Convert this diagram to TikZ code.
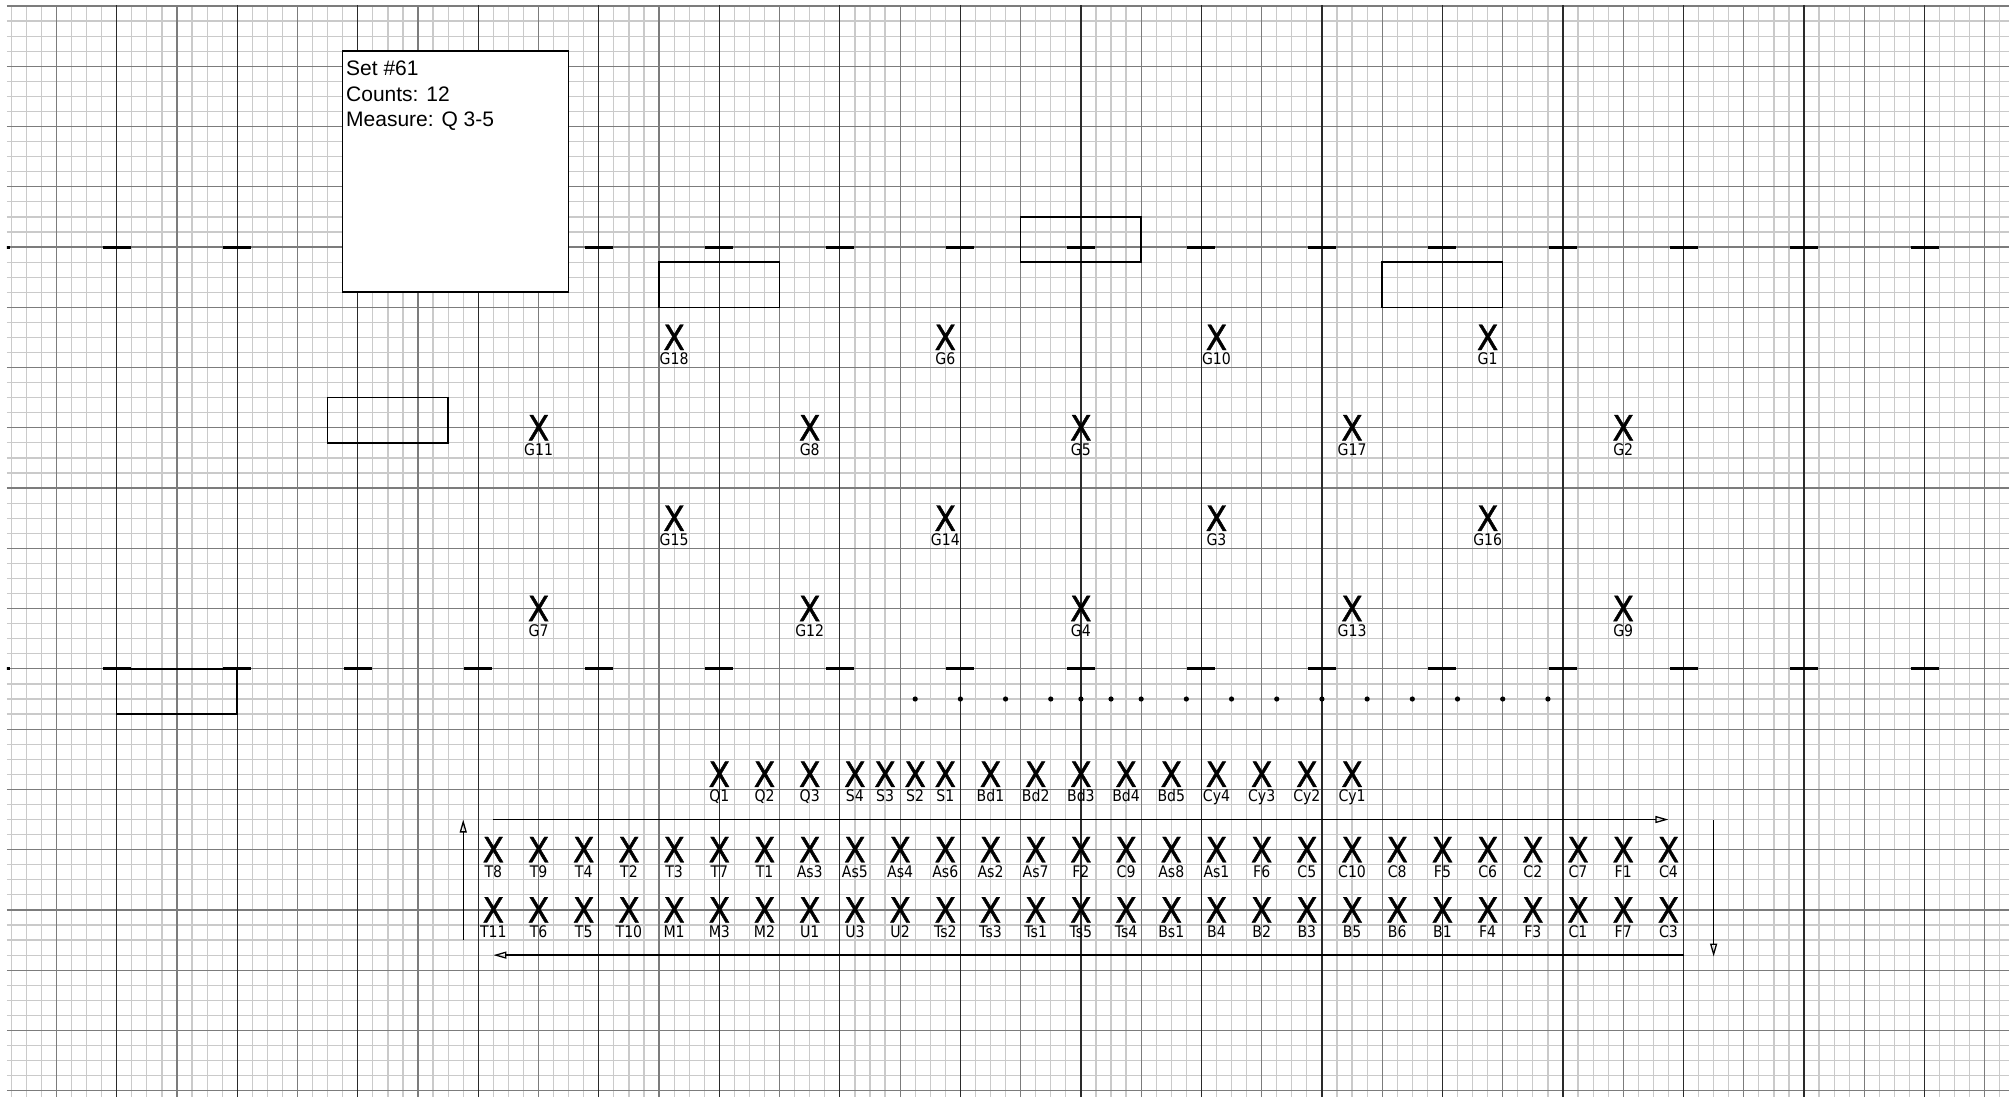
\documentclass[tikz,border=0pt]{standalone}
\usepackage{fontspec}
\setmainfont{Liberation Sans}
\newfontfamily\lblfont[FakeStretch=0.88]{DejaVu Sans}
\newfontfamily\xfont[FakeStretch=0.9,FakeBold=1.2]{DejaVu Sans}
\usetikzlibrary{arrows.meta}
\definecolor{gridlight}{HTML}{CACACA}
\definecolor{gridmid}{HTML}{7C7C7C}
\definecolor{gridyard}{HTML}{2A2A2A}
\tikzset{
  lightline/.style={draw=gridlight, line width=1.2pt},
  midline/.style={draw=gridmid, line width=1.2pt},
  yardline/.style={draw=gridyard, line width=1.2pt},
  hashmark/.style={draw=black, line width=3pt},
  formbox/.style={draw=black, line width=1.5pt},
  infobox/.style={draw=black, fill=white, line width=1.5pt},
  infotext/.style={anchor=base west, inner sep=0pt, font=\fontsize{21}{25}\selectfont},
  markx/.style={anchor=base, inner sep=0pt, yshift=-12.6pt, font=\xfont\fontsize{34.7}{40}\selectfont},
  lbltext/.style={anchor=base, inner sep=0pt, yshift=-27.4pt, font=\lblfont\fontsize{16}{19}\selectfont},
  pathline/.style={draw=black, line width=1.3pt, -{Triangle[open, length=13pt, width=7pt]}},
  dotmark/.style={fill=black},
}
\newcommand\mk[3]{%
  \node[markx] (x#3) at ({#1},{#2}) {X};
  \node[lbltext] (l#3) at ({#1},{#2}) {#3};
}
\begin{document}
\begin{tikzpicture}[x=15.065pt, y=-15.065pt]
\useasboundingbox (-1080.9pt,6pt) rectangle (928.1pt,-1090pt);
% grid
\begin{scope}
  \clip (-71.3,-0.06) rectangle (61.7,72.5);
  \foreach \k in {0,...,72} \draw[lightline] (-71.3,\k) -- (61.7,\k);
  \foreach \s in {-71,...,61} \draw[lightline] (\s,-0.1) -- (\s,72.5);
  \foreach \k in {0,4,...,72} \draw[midline] (-71.3,\k) -- (61.7,\k);
  \foreach \s in {-68,-64,...,60} \draw[midline] (\s,-0.1) -- (\s,72.5);
  \foreach \s in {-64,-56,...,56} \draw[yardline] (\s,-0.1) -- (\s,72.5);
  \foreach \s in {-72,-64,...,56} {
    \draw[hashmark] ({\s-0.93},16) -- ({\s+0.93},16);
    \draw[hashmark] ({\s-0.93},44) -- ({\s+0.93},44);
  }
\end{scope}
% form rectangles
\draw[formbox] (-28,17) rectangle (-20,20);
\draw[formbox] (-4,14) rectangle (4,17);
\draw[formbox] (20,17) rectangle (28,20);
\draw[formbox] (-50,26) rectangle (-42,29);
\draw[formbox] (-64,44) rectangle (-56,47);
% info box
\draw[infobox] (-49,3) rectangle (-34,19);
\node[infotext] (setno) at (-48.78,4.627) {Set \#61};
\node[infotext] (counts) at (-48.78,6.306) {Counts: 12};
\node[infotext] (measure) at (-48.78,7.966) {Measure: Q 3-5};
% dots
\foreach \s in {-11,-8,-5,-2,0,2,4,7,10,13,16,19,22,25,28,31}
  \fill[dotmark] (\s,46) circle[radius=2.6pt];
% G block
\foreach \s/\lab in {-27/G18,-9/G6,9/G10,27/G1} {\mk{\s}{22}{\lab}}
\foreach \s/\lab in {-36/G11,-18/G8,0/G5,18/G17,36/G2} {\mk{\s}{28}{\lab}}
\foreach \s/\lab in {-27/G15,-9/G14,9/G3,27/G16} {\mk{\s}{34}{\lab}}
\foreach \s/\lab in {-36/G7,-18/G12,0/G4,18/G13,36/G9} {\mk{\s}{40}{\lab}}
% front row
\foreach \s/\lab in {-24/Q1,-21/Q2,-18/Q3,-15/S4,-13/S3,-11/S2,-9/S1,-6/Bd1,-3/Bd2,0/Bd3,3/Bd4,6/Bd5,9/Cy4,12/Cy3,15/Cy2,18/Cy1} {\mk{\s}{51}{\lab}}
% block rows
\foreach \lab [count=\i from 0] in {T8,T9,T4,T2,T3,T7,T1,As3,As5,As4,As6,As2,As7,F2,C9,As8,As1,F6,C5,C10,C8,F5,C6,C2,C7,F1,C4} {\mk{3*\i-39}{56}{\lab}}
\foreach \lab [count=\i from 0] in {T11,T6,T5,T10,M1,M3,M2,U1,U3,U2,Ts2,Ts3,Ts1,Ts5,Ts4,Bs1,B4,B2,B3,B5,B6,B1,F4,F3,C1,F7,C3} {\mk{3*\i-39}{60}{\lab}}
% path arrows
\coordinate (topA) at (-39,54);
\coordinate (topB) at (39,54);
\coordinate (rgtA) at (42,54);
\coordinate (rgtB) at (42,63.1);
\coordinate (botA) at (40,63);
\coordinate (botB) at (-39,63);
\coordinate (lftA) at (-41,62);
\coordinate (lftB) at (-41,54);
\draw[pathline] (topA) -- (topB);
\draw[pathline] (rgtA) -- (rgtB);
\draw[pathline] (botA) -- (botB);
\draw[pathline] (lftA) -- (lftB);
\end{tikzpicture}
\end{document}
